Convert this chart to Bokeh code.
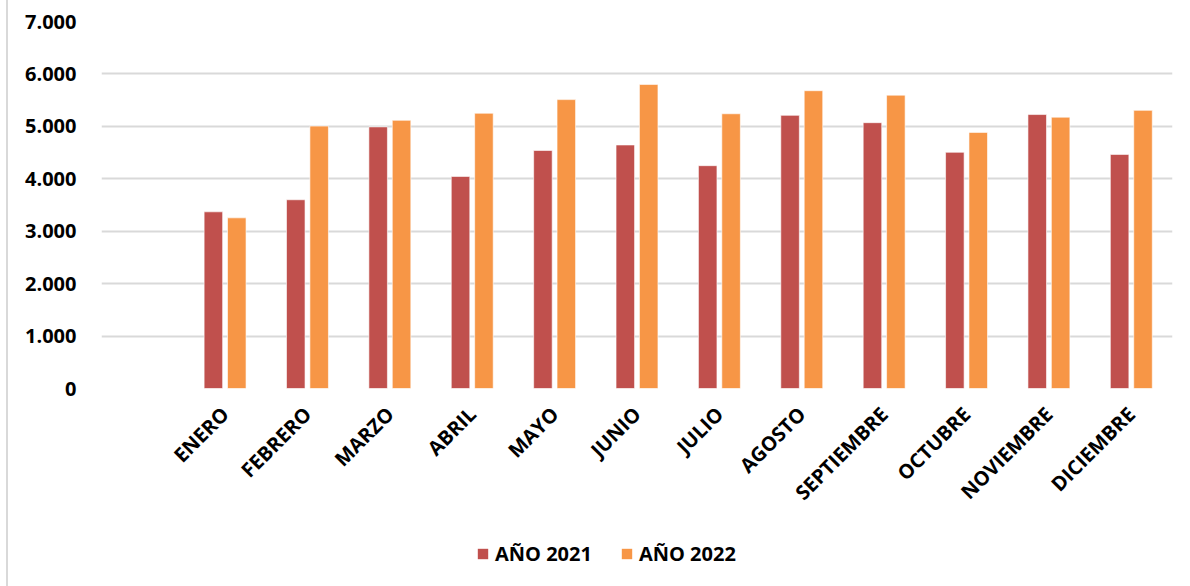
from bokeh.plotting import figure
from bokeh.models import ColumnDataSource, FactorRange, Range1d, Legend, LegendItem, CustomJSTickFormatter, SingleIntervalTicker
from bokeh.layouts import column
from bokeh.transform import dodge
from bokeh.embed import file_html
from bokeh.resources import INLINE
import math

months = ["ENERO", "FEBRERO", "MARZO", "ABRIL", "MAYO", "JUNIO", "JULIO",
          "AGOSTO", "SEPTIEMBRE", "OCTUBRE", "NOVIEMBRE", "DICIEMBRE"]
v2021 = [3370, 3600, 4990, 4045, 4540, 4645, 4250, 5210, 5070, 4505, 5225, 4465]
v2022 = [3255, 5005, 5115, 5250, 5510, 5800, 5240, 5680, 5595, 4885, 5175, 5305]
series_names = ["AÑO 2021", "AÑO 2022"]
colors = ["#C0504D", "#F79646"]

factors = [" "] + months
src = ColumnDataSource(dict(month=months, a=v2021, b=v2022))

W = 1180
p = figure(x_range=FactorRange(*factors, range_padding=0), y_range=Range1d(0, 7000),
           width=W, height=530, output_backend="svg", toolbar_location=None,
           min_border_left=93, min_border_right=16, min_border_top=21, min_border_bottom=142)
p.outline_line_color = None
p.background_fill_color = "white"

r1 = p.vbar(x=dodge("month", -0.142, range=p.x_range), top="a", width=0.225, source=src,
            fill_color=colors[0], line_color="white", line_alpha=0.6, line_width=1)
r2 = p.vbar(x=dodge("month", 0.142, range=p.x_range), top="b", width=0.225, source=src,
            fill_color=colors[1], line_color="white", line_alpha=0.6, line_width=1)

# y axis
p.yaxis.ticker = SingleIntervalTicker(interval=1000)
p.yaxis.formatter = CustomJSTickFormatter(code="""
    const s = Math.round(tick).toString();
    return s.replace(/\\B(?=(\\d{3})+(?!\\d))/g, '.');
""")
p.yaxis.axis_line_color = None
p.yaxis.major_tick_line_color = None
p.yaxis.minor_tick_line_color = None
p.yaxis.major_tick_out = 0
p.yaxis.major_label_standoff = 21
p.yaxis.major_label_text_font = "Open Sans"
p.yaxis.major_label_text_font_style = "bold"
p.yaxis.major_label_text_font_size = "20px"
p.yaxis.major_label_text_color = "black"

# x axis
p.xaxis.axis_line_color = None
p.xaxis.major_tick_line_color = None
p.xaxis.minor_tick_line_color = None
p.xaxis.major_tick_out = 0
p.xaxis.major_label_orientation = math.pi / 4
p.xaxis.major_label_standoff = 22
p.xaxis.major_label_text_font = "Open Sans"
p.xaxis.major_label_text_font_style = "bold"
p.xaxis.major_label_text_font_size = "20px"
p.xaxis.major_label_text_color = "black"

p.xgrid.grid_line_color = None
p.ygrid.grid_line_color = "#d9d9d9"
p.ygrid.grid_line_width = 2

# legend strip below the chart (swatch glyphs sit outside the visible range)
lf = figure(width=W, height=56, output_backend="svg", toolbar_location=None,
            x_range=Range1d(0, 1), y_range=Range1d(0, 1),
            min_border_left=0, min_border_right=0, min_border_top=0, min_border_bottom=0)
lf.axis.visible = False
lf.grid.visible = False
lf.outline_line_color = None
k1 = lf.rect(x=[-5], y=[-5], width=1, height=1, fill_color=colors[0], line_color=None)
k2 = lf.rect(x=[-5], y=[-5], width=1, height=1, fill_color=colors[1], line_color=None)
legend = Legend(items=[LegendItem(label=series_names[0], renderers=[k1]),
                       LegendItem(label=series_names[1], renderers=[k2])],
                location=(375, 19), orientation="horizontal",
                glyph_width=13, glyph_height=13, label_standoff=6, spacing=28,
                padding=0, margin=0, border_line_color=None, background_fill_alpha=0,
                label_text_font="Open Sans", label_text_font_style="bold",
                label_text_font_size="20px", label_text_color="black")
lf.add_layout(legend, "center")

layout = column(p, lf, spacing=0,
                styles={"border-left": "2px solid #d9d9d9", "margin-left": "6px"})

open("out.html", "w").write(file_html(layout, INLINE))
